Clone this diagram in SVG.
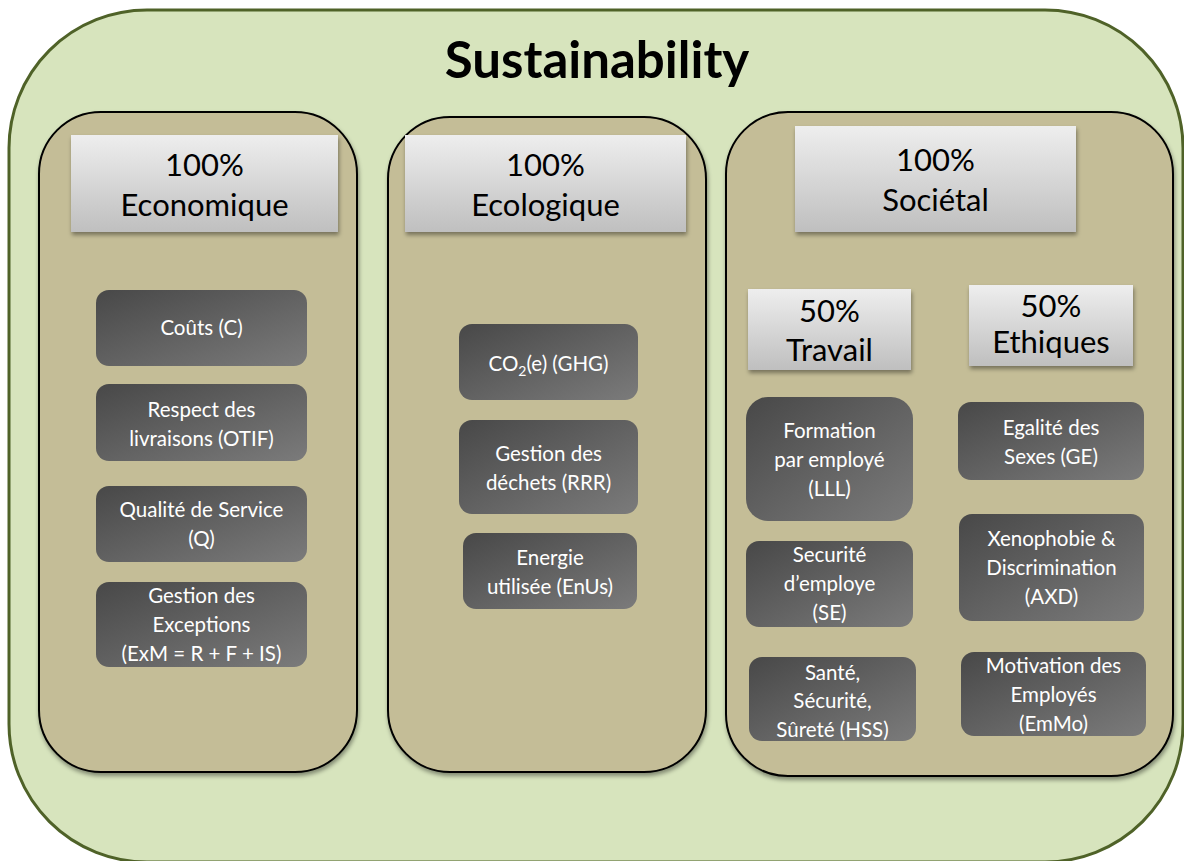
<svg xmlns="http://www.w3.org/2000/svg" width="1184" height="861" viewBox="0 0 1184 861">
<defs>
<linearGradient id="hdr" x1="0" y1="0" x2="0" y2="1"><stop offset="0" stop-color="#eeeeee"/><stop offset="1" stop-color="#bfbfbf"/></linearGradient>
<linearGradient id="dark" x1="0" y1="0" x2="1" y2="1"><stop offset="0" stop-color="#484848"/><stop offset="1" stop-color="#7b7b7b"/></linearGradient>
<filter id="sh" x="-10%" y="-10%" width="120%" height="130%"><feDropShadow dx="1" dy="3" stdDeviation="2" flood-color="#000" flood-opacity="0.4"/></filter>
</defs>
<style>
.outer{fill:#d7e4bd;stroke:#4f6228;stroke-width:3}
.col{fill:#c4bd97;stroke:#000;stroke-width:2}
.hdr{fill:url(#hdr)}
.dk{fill:url(#dark)}
.t{font-family:Lato,"Open Sans",sans-serif;text-anchor:middle}
.ht{font-size:31px;fill:#000}
.dt{font-size:20.5px;fill:#fff}
.title{font-size:51px;font-weight:bold;fill:#000}
</style>
<rect width="1184" height="861" fill="#fff"/>
<g id="sustainability">
<rect class="outer" x="9" y="10" width="1174" height="852" rx="138" ry="138"/>
<text class="t title" x="597" y="78">Sustainability</text>
</g>
<g id="col-economique">
<rect class="col" x="39" y="112" width="318" height="660" rx="62" filter="url(#sh)"/>
<rect class="hdr" x="71" y="135" width="267" height="97" filter="url(#sh)"/>
<text class="t ht" x="204.5" y="176">100%</text>
<text class="t ht" x="204.5" y="216">Economique</text>
</g>
<g id="col-ecologique">
<rect class="col" x="388" y="117" width="318" height="655" rx="62" filter="url(#sh)"/>
<rect class="hdr" x="405" y="135" width="281" height="97" filter="url(#sh)"/>
<text class="t ht" x="545.5" y="176">100%</text>
<text class="t ht" x="545.5" y="216">Ecologique</text>
</g>
<g id="col-societal">
<rect class="col" x="726" y="112" width="447" height="664" rx="62" filter="url(#sh)"/>
<rect class="hdr" x="795" y="126" width="281" height="106" filter="url(#sh)"/>
<text class="t ht" x="935.5" y="171">100%</text>
<text class="t ht" x="935.5" y="211">Sociétal</text>
</g>
<g id="travail">
<rect class="hdr" x="748" y="289" width="163" height="81" filter="url(#sh)"/>
<text class="t ht" x="829.5" y="322">50%</text>
<text class="t ht" x="829.5" y="361">Travail</text>
</g>
<g id="ethiques">
<rect class="hdr" x="969" y="285" width="164" height="81" filter="url(#sh)"/>
<text class="t ht" x="1051" y="317">50%</text>
<text class="t ht" x="1051" y="353">Ethiques</text>
</g>
<g id="couts"><rect class="dk" x="96" y="290" width="211" height="76" rx="13"/>
<text class="t dt" x="201.5" y="335">Coûts (C)</text></g>
<g id="otif"><rect class="dk" x="96" y="384" width="211" height="77" rx="13"/>
<text class="t dt" x="201.5" y="417">Respect des</text><text class="t dt" x="201.5" y="446">livraisons (OTIF)</text></g>
<g id="qualite"><rect class="dk" x="96" y="486" width="211" height="76" rx="13"/>
<text class="t dt" x="201.5" y="517">Qualité de Service</text><text class="t dt" x="201.5" y="546">(Q)</text></g>
<g id="exceptions"><rect class="dk" x="96" y="582" width="211" height="85" rx="13"/>
<text class="t dt" x="201.5" y="603">Gestion des</text><text class="t dt" x="201.5" y="632">Exceptions</text><text class="t dt" x="201.5" y="661">(ExM = R + F + IS)</text></g>
<g id="co2"><rect class="dk" x="459" y="324" width="179" height="76" rx="13"/>
<text class="t dt" x="548.5" y="371">CO<tspan font-size="14" dy="5">2</tspan><tspan dy="-5">(e) (GHG)</tspan></text></g>
<g id="dechets"><rect class="dk" x="459" y="420" width="179" height="94" rx="13"/>
<text class="t dt" x="548.5" y="461">Gestion des</text><text class="t dt" x="548.5" y="490">déchets (RRR)</text></g>
<g id="energie"><rect class="dk" x="463" y="533" width="174" height="76" rx="13"/>
<text class="t dt" x="550" y="565">Energie</text><text class="t dt" x="550" y="594">utilisée (EnUs)</text></g>
<g id="formation"><rect class="dk" x="746" y="397" width="167" height="124" rx="22"/>
<text class="t dt" x="829.5" y="438">Formation</text><text class="t dt" x="829.5" y="467">par employé</text><text class="t dt" x="829.5" y="496">(LLL)</text></g>
<g id="securite"><rect class="dk" x="746" y="541" width="167" height="86" rx="13"/>
<text class="t dt" x="829.5" y="562">Securité</text><text class="t dt" x="829.5" y="591">d’employe</text><text class="t dt" x="829.5" y="620">(SE)</text></g>
<g id="sante"><rect class="dk" x="749" y="657" width="167" height="84" rx="13"/>
<text class="t dt" x="832.5" y="680">Santé,</text><text class="t dt" x="832.5" y="708">Sécurité,</text><text class="t dt" x="832.5" y="737">Sûreté (HSS)</text></g>
<g id="egalite"><rect class="dk" x="958" y="402" width="186" height="78" rx="13"/>
<text class="t dt" x="1051" y="435">Egalité des</text><text class="t dt" x="1051" y="464">Sexes (GE)</text></g>
<g id="xenophobie"><rect class="dk" x="959" y="514" width="185" height="107" rx="13"/>
<text class="t dt" x="1051.5" y="546">Xenophobie &amp;</text><text class="t dt" x="1051.5" y="575">Discrimination</text><text class="t dt" x="1051.5" y="604">(AXD)</text></g>
<g id="motivation"><rect class="dk" x="961" y="652" width="185" height="84" rx="13"/>
<text class="t dt" x="1053.5" y="673">Motivation des</text><text class="t dt" x="1053.5" y="702">Employés</text><text class="t dt" x="1053.5" y="731">(EmMo)</text></g>
<g id="connectors"/>
</svg>
